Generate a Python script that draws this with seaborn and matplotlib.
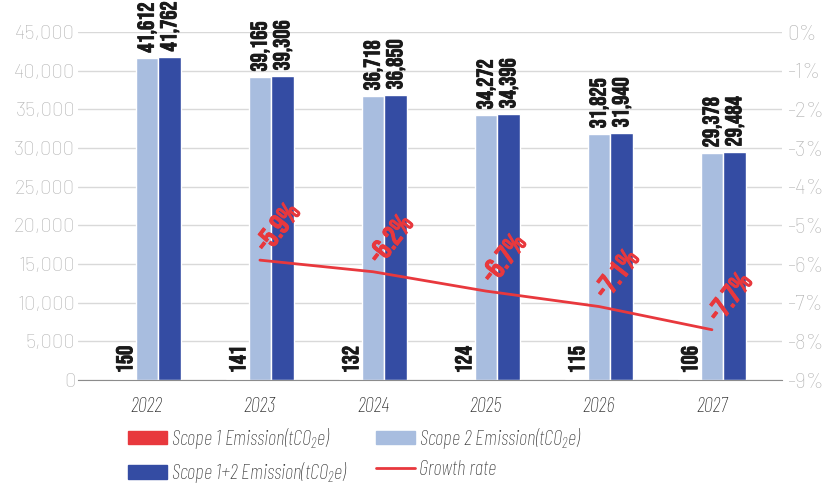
import pandas as pd
import numpy as np
import matplotlib
matplotlib.use("Agg")
import matplotlib.pyplot as plt
import matplotlib.patheffects as pe
import seaborn as sns
from matplotlib.patches import Patch
from matplotlib.lines import Line2D
from matplotlib import font_manager

years = ["2022", "2023", "2024", "2025", "2026", "2027"]
scope1 = [150, 141, 132, 124, 115, 106]
scope2 = [41612, 39165, 36718, 34272, 31825, 29378]
scope12 = [41762, 39306, 36850, 34396, 31940, 29484]
growth = [np.nan, -5.9, -6.2, -6.7, -7.1, -7.7]

names = ["Scope 1 Emission(tCO$_{\\mathregular{2}}$e)",
         "Scope 2 Emission(tCO$_{\\mathregular{2}}$e)",
         "Scope 1+2 Emission(tCO$_{\\mathregular{2}}$e)"]
colors = ["#e8383d", "#a8bddf", "#344ca3"]
red = "#e8383d"

installed = {f.name for f in font_manager.fontManager.ttflist}


def pick(cands):
    return [c for c in cands if c in installed] + ["DejaVu Sans"]


heavy = pick(["Bebas Neue", "Barlow Condensed", "Oswald"])
cond = pick(["Barlow Condensed", "Barlow Semi Condensed", "Roboto Condensed"])
base = pick(["Barlow", "Barlow Semi Condensed", "Rubik", "Roboto"])

df = pd.DataFrame({
    "year": years * 3,
    "scope": [names[0]] * 6 + [names[1]] * 6 + [names[2]] * 6,
    "value": scope1 + scope2 + scope12,
})

sns.set_style("white")
plt.rcParams["font.family"] = base
plt.rcParams["mathtext.fontset"] = "custom"
plt.rcParams["mathtext.rm"] = cond[0] + ":light:italic"
plt.rcParams["mathtext.it"] = cond[0] + ":light:italic"

fig = plt.figure(figsize=(8.31, 4.84), dpi=100)
ax = fig.add_axes([78 / 831, 1 - 380 / 484, (782 - 78) / 831, 348 / 484])

sns.barplot(data=df, x="year", y="value", hue="scope", palette=colors,
            width=0.6, ax=ax, legend=False, saturation=1)

for cont in ax.containers:
    ax.bar_label(cont, labels=[f"{v:,.0f}" for v in cont.datavalues],
                 rotation=90, padding=4, fontsize=16.5,
                 color="#1a1a1a", family=heavy,
                 path_effects=[pe.withStroke(linewidth=0.6, foreground="#1a1a1a")])

ax.set_ylim(0, 45000)
ax.set_xlim(-0.61, 5.62)
ax.set_yticks(np.arange(0, 45001, 5000))
ax.set_yticklabels([f"{v:,}" for v in range(0, 45001, 5000)])
ax.yaxis.grid(True, color="#d9d9d9", lw=1)
ax.set_axisbelow(True)
ax.set_xlabel("")
ax.set_ylabel("")
for s in ["left", "right", "top"]:
    ax.spines[s].set_visible(False)
ax.spines["bottom"].set_color("#8c8c8c")
ax.tick_params(axis="y", length=0, labelsize=14.5, labelcolor="#b5b5b5", pad=2)
ax.tick_params(axis="x", length=0, labelsize=15, labelcolor="#222222", pad=12)
for t in ax.get_yticklabels():
    t.set_fontweight("light")
for t in ax.get_xticklabels():
    t.set_fontstyle("italic")
    t.set_fontweight("light")
    t.set_family(cond)

ax2 = ax.twinx()
gdf = pd.DataFrame({"x": range(6), "g": growth})
sns.lineplot(data=gdf, x="x", y="g", color=red, lw=2, ax=ax2)
ax2.set_ylim(-9, 0)
ax2.set_yticks(range(-9, 1))
ax2.set_yticklabels([f"{v}%" for v in range(-9, 1)])
ax2.set_ylabel("")
ax2.tick_params(axis="y", length=0, labelsize=15, labelcolor="#b5b5b5", pad=4)
for t in ax2.get_yticklabels():
    t.set_fontweight("light")
for s in ax2.spines.values():
    s.set_visible(False)
for i, g in enumerate(growth):
    if np.isnan(g):
        continue
    ax2.annotate(f"{g}%", (i, g), xytext=(12, 24), textcoords="offset points",
                 rotation=52, ha="center", va="center", color=red,
                 fontsize=21, family=heavy,
                 path_effects=[pe.withStroke(linewidth=0.7, foreground=red)])

handles = [Patch(color=colors[0]), Patch(color=colors[1]),
           Patch(color=colors[2]), Line2D([0], [0], color=red, lw=2)]
labels = [names[0], names[1], names[2], "Growth rate"]
order = [0, 2, 1, 3]
fig.legend([handles[i] for i in order], [labels[i] for i in order],
           ncol=2, loc="upper left", bbox_to_anchor=(128 / 831, 1 - 426 / 484),
           frameon=False, borderpad=0, borderaxespad=0,
           handlelength=1.85, handleheight=0.6, handletextpad=0.2,
           labelspacing=0.45, columnspacing=1.4,
           labelcolor="#333333",
           prop={"size": 15, "style": "italic", "weight": "light", "family": cond})

fig.savefig("out.png", dpi=100)
